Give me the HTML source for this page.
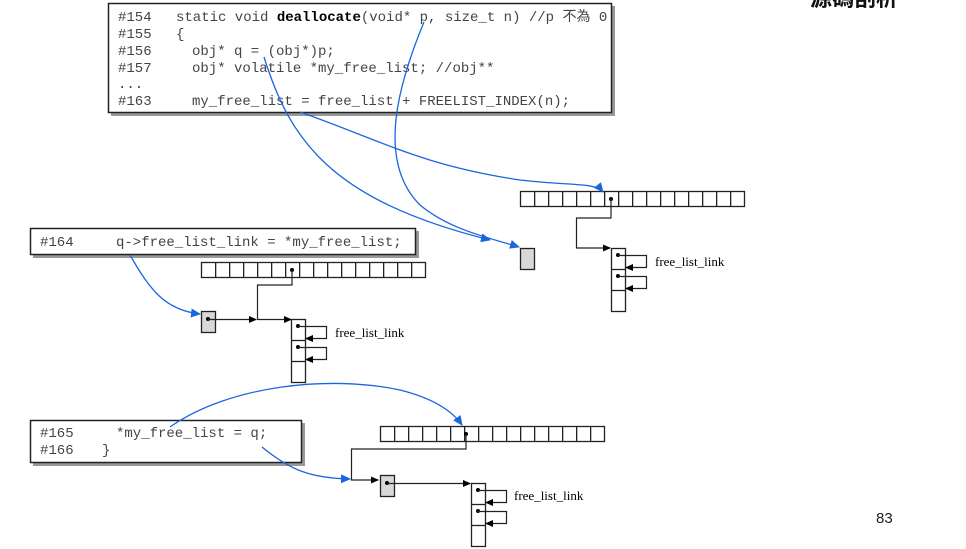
<!DOCTYPE html>
<html><head><meta charset="utf-8"><style>
html,body{margin:0;padding:0;background:#fff;width:966px;height:549px;overflow:hidden}
svg{display:block}
.code{font-family:"Liberation Mono","Noto Sans CJK TC",monospace;font-size:14px;fill:#444}
.lbl{font-family:"Liberation Serif",serif;font-size:13px;fill:#000}
</style></head><body>
<svg width="966" height="549" viewBox="0 0 966 549" xmlns="http://www.w3.org/2000/svg">
<defs>
<marker id="ab" markerWidth="8" markerHeight="8" refX="7" refY="4" orient="auto" markerUnits="userSpaceOnUse"><path d="M0,0.5L8,4L0,7.5z" fill="#000"/></marker>
<marker id="bl" markerWidth="10" markerHeight="9" refX="9" refY="4.5" orient="auto" markerUnits="userSpaceOnUse"><path d="M0,0L10,4.5L0,9z" fill="#1a66e0"/></marker>
<g id="arr">
<rect x="0.5" y="0.5" width="224" height="15" fill="#fff" stroke="#222" stroke-width="1.3"/>
<line x1="14" y1="8" x2="224" y2="8" stroke="#222" stroke-width="15" stroke-dasharray="1.3 12.7"/>
</g>
<g id="col">
<rect x="0.5" y="0.5" width="14" height="63" fill="#fff" stroke="#222" stroke-width="1.3"/>
<line x1="0" y1="21.5" x2="14" y2="21.5" stroke="#222" stroke-width="1.3"/>
<line x1="0" y1="42.5" x2="14" y2="42.5" stroke="#222" stroke-width="1.3"/>
<circle cx="7" cy="7" r="2" fill="#000"/>
<circle cx="7" cy="28" r="2" fill="#000"/>
<path d="M7,7.5H35.5V19.5H15" fill="none" stroke="#222" stroke-width="1.2" marker-end="url(#ab)"/>
<path d="M7,28.5H35.5V40.5H15" fill="none" stroke="#222" stroke-width="1.2" marker-end="url(#ab)"/>
</g>
</defs>

<text x="810" y="6" font-family="Liberation Sans,'Noto Sans CJK TC',sans-serif" font-weight="bold" font-size="22" fill="#111">源碼剖析</text>

<!-- Section 1 code box -->
<rect x="111" y="6" width="504" height="110" fill="#999"/>
<rect x="108.5" y="3.5" width="503" height="109" fill="#fff" stroke="#222" stroke-width="1.5"/>
<text class="code" x="118" y="21">#154</text>
<text class="code" x="176" y="21">static void <tspan font-weight="bold" fill="#000">deallocate</tspan>(void* p, size_t n)  //p 不為 0</text>
<text class="code" x="118" y="38">#155</text><text class="code" x="176" y="38">{</text>
<text class="code" x="118" y="55">#156</text><text class="code" x="192" y="55">obj* q = (obj*)p;</text>
<text class="code" x="118" y="72">#157</text><text class="code" x="192" y="72">obj* volatile *my_free_list; //obj**</text>
<text class="code" x="118" y="88">...</text>
<text class="code" x="118" y="105">#163</text><text class="code" x="192" y="105">my_free_list = free_list + FREELIST_INDEX(n);</text>

<!-- Section 1 diagram -->
<use href="#arr" x="520" y="191"/>
<circle cx="611" cy="199" r="2" fill="#000"/>
<path d="M611,199V218H576.5V248H610" fill="none" stroke="#222" stroke-width="1.2" marker-end="url(#ab)"/>
<use href="#col" x="611" y="248"/>
<text class="lbl" x="655" y="266">free_list_link</text>
<rect x="520.5" y="248.5" width="14" height="21" fill="#d8d8d8" stroke="#222" stroke-width="1.3"/>

<path d="M300,112 C380,140 420,165 520,180 C570,186 595,182 603,192" fill="none" stroke="#1a66e0" stroke-width="1.3" marker-end="url(#bl)"/>
<path d="M264,57 C290,140 330,200 490,240" fill="none" stroke="#1a66e0" stroke-width="1.3" marker-end="url(#bl)"/>
<path d="M424,22 C400,80 375,160 420,205 C450,230 490,238 519,247" fill="none" stroke="#1a66e0" stroke-width="1.3" marker-end="url(#bl)"/>

<!-- Section 2 -->
<rect x="33" y="231" width="386" height="27" fill="#999"/>
<rect x="30.5" y="228.5" width="385" height="26" fill="#fff" stroke="#222" stroke-width="1.5"/>
<text class="code" x="40" y="246">#164</text><text class="code" x="116" y="246">q-&gt;free_list_link = *my_free_list;</text>
<use href="#arr" x="201" y="262"/>
<circle cx="292" cy="270" r="2" fill="#000"/>
<path d="M292,270V285H257.5V319" fill="none" stroke="#222" stroke-width="1.2"/>
<rect x="201.5" y="311.5" width="14" height="21" fill="#d8d8d8" stroke="#222" stroke-width="1.3"/>
<circle cx="208" cy="319" r="2" fill="#000"/>
<path d="M208,319.5H256" fill="none" stroke="#222" stroke-width="1.2" marker-end="url(#ab)"/>
<path d="M257,319.5H291" fill="none" stroke="#222" stroke-width="1.2" marker-end="url(#ab)"/>
<use href="#col" x="291" y="319"/>
<text class="lbl" x="335" y="337">free_list_link</text>
<path d="M130,255 C150,290 165,310 200,314" fill="none" stroke="#1a66e0" stroke-width="1.3" marker-end="url(#bl)"/>

<!-- Section 3 -->
<rect x="33" y="423" width="272" height="43" fill="#999"/>
<rect x="30.5" y="420.5" width="271" height="42" fill="#fff" stroke="#222" stroke-width="1.5"/>
<text class="code" x="40" y="437">#165</text><text class="code" x="116" y="437">*my_free_list = q;</text>
<text class="code" x="40" y="454">#166</text><text class="code" x="102" y="454">}</text>
<use href="#arr" x="380" y="426"/>
<circle cx="466" cy="434" r="2" fill="#000"/>
<path d="M466,434V449H351.5V480H378" fill="none" stroke="#222" stroke-width="1.2" marker-end="url(#ab)"/>
<rect x="380.5" y="475.5" width="14" height="21" fill="#d8d8d8" stroke="#222" stroke-width="1.3"/>
<circle cx="387" cy="483" r="2" fill="#000"/>
<path d="M387,483.5H470" fill="none" stroke="#222" stroke-width="1.2" marker-end="url(#ab)"/>
<use href="#col" x="471" y="483"/>
<text class="lbl" x="514" y="500">free_list_link</text>
<path d="M170,427 C230,385 330,375 400,390 C440,400 455,415 462,425" fill="none" stroke="#1a66e0" stroke-width="1.3" marker-end="url(#bl)"/>
<path d="M262,447 C290,470 310,478 350,479" fill="none" stroke="#1a66e0" stroke-width="1.3" marker-end="url(#bl)"/>

<text x="876" y="523" font-family="Liberation Sans,sans-serif" font-size="15" fill="#222">83</text>
</svg>
</body></html>
